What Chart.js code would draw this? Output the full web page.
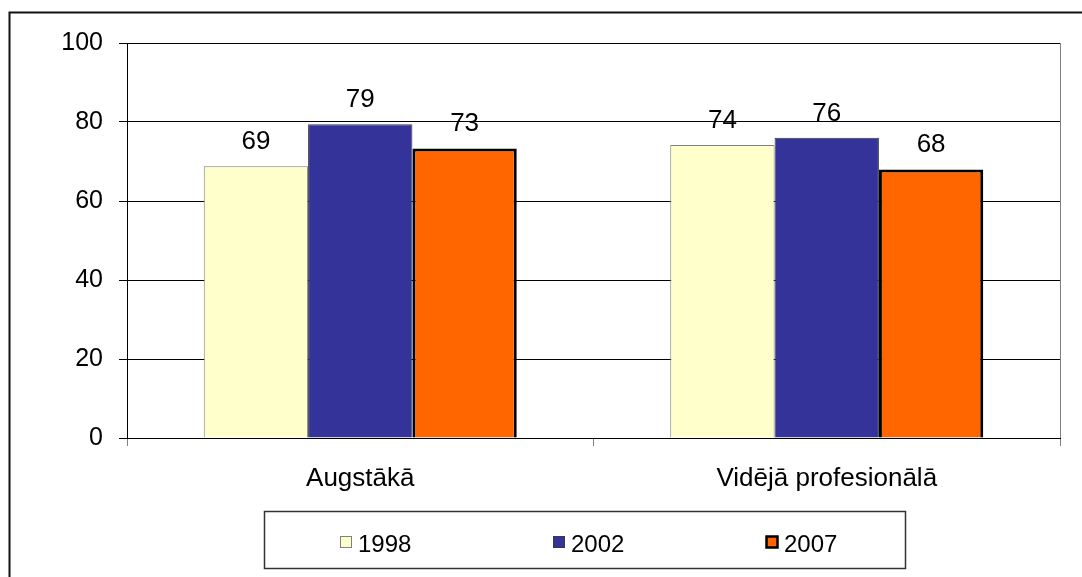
<!DOCTYPE html>
<html><head><meta charset="utf-8">
<style>html,body{margin:0;padding:0;background:#fff}#wrap{width:1082px;height:577px;position:relative}canvas{display:block}</style>
<script src="https://cdn.jsdelivr.net/npm/chart.js@4.4.1/dist/chart.umd.min.js"></script>
</head><body><div id="wrap"><canvas id="c" width="1082" height="577"></canvas></div>
<script>
const categories = ['Augstākā', 'Vidējā profesionālā'];
const seriesNames = ['1998', '2002', '2007'];
const values1998 = [68.8, 74.2];
const values2002 = [79.4, 76.0];
const values2007 = [73.3, 68.0];
const yTicks = [0, 20, 40, 60, 80, 100];

const FONT = "'Liberation Sans', Arial, Helvetica, sans-serif";
Chart.defaults.font.family = FONT;
Chart.defaults.font.size = 25;
Chart.defaults.color = '#000';

const framePlugin = {
  id: 'frame',
  beforeDraw(chart) {
    const ctx = chart.ctx;
    ctx.save();
    ctx.fillStyle = '#fff';
    ctx.fillRect(0, 0, chart.width, chart.height);
    ctx.strokeStyle = '#111';
    ctx.lineWidth = 2;
    ctx.beginPath();
    ctx.moveTo(9.5, chart.height + 2);
    ctx.lineTo(9.5, 12.5);
    ctx.lineTo(chart.width + 2, 12.5);
    ctx.stroke();
    ctx.restore();
  },
  afterDraw(chart) {
    const ctx = chart.ctx, a = chart.chartArea;
    ctx.save();
    ctx.strokeStyle = '#808080';
    ctx.lineWidth = 1;
    ctx.beginPath();
    ctx.moveTo(a.right + 0.5, a.top);
    ctx.lineTo(a.right + 0.5, a.bottom);
    ctx.stroke();
    ctx.restore();
  }
};

const valueLabelPlugin = {
  id: 'valueLabels',
  afterDatasetsDraw(chart) {
    const ctx = chart.ctx;
    ctx.save();
    ctx.font = '26px ' + FONT;
    ctx.fillStyle = '#000';
    ctx.textAlign = 'center';
    ctx.textBaseline = 'alphabetic';
    chart.data.datasets.forEach((ds, i) => {
      const meta = chart.getDatasetMeta(i);
      meta.data.forEach((el, j) => {
        ctx.fillText(String(Math.round(ds.data[j])), el.x, el.y - 17);
      });
    });
    ctx.restore();
  }
};

const legendBoxPlugin = {
  id: 'legendBox',
  afterDraw(chart) {
    const ctx = chart.ctx;
    const bx = 264, by = 511, bw = 641, bh = 57;
    ctx.save();
    ctx.strokeStyle = '#333';
    ctx.lineWidth = 1.5;
    ctx.strokeRect(bx + 0.5, by + 0.5, bw, bh);
    ctx.font = '24px ' + FONT;
    ctx.textBaseline = 'middle';
    ctx.textAlign = 'left';
    chart.data.datasets.forEach((ds, i) => {
      const x = bx + 76 + i * 213;
      const y = by + 31;
      ctx.fillStyle = ds.backgroundColor;
      ctx.fillRect(x, y - 6, 12, 12);
      ctx.strokeStyle = ds.borderColor;
      ctx.lineWidth = ds.borderWidth >= 2 ? 2.5 : 1;
      ctx.strokeRect(x + 0.5, y - 5.5, 11, 11);
      ctx.fillStyle = '#000';
      ctx.fillText(ds.label, x + 18, y + 3);
    });
    ctx.restore();
  }
};

new Chart(document.getElementById('c'), {
  type: 'bar',
  data: {
    labels: categories,
    datasets: [
      { label: seriesNames[0], data: values1998, backgroundColor: '#FFFFCC', borderColor: '#808080', borderWidth: 1 },
      { label: seriesNames[1], data: values2002, backgroundColor: '#333399', borderColor: '#3a3a3a', borderWidth: 1 },
      { label: seriesNames[2], data: values2007, backgroundColor: '#FF6600', borderColor: '#000000', borderWidth: 3 }
    ]
  },
  options: {
    responsive: false,
    animation: false,
    devicePixelRatio: 1,
    layout: { padding: { left: 0, top: 43, right: 22, bottom: 79 } },
    datasets: { bar: { categoryPercentage: 0.671, barPercentage: 1.0 } },
    plugins: { legend: { display: false }, tooltip: { enabled: false } },
    scales: {
      x: {
        grid: { offset: true, drawOnChartArea: false, drawTicks: true, tickLength: 8, color: '#808080' },
        border: { display: true, color: '#000', width: 1 },
        ticks: { padding: 17, font: { size: 26 }, color: '#000' },
        afterFit(scale) { scale.height = 60; }
      },
      y: {
        min: 0, max: 100,
        afterBuildTicks(scale) { scale.ticks = yTicks.map(v => ({ value: v })); },
        grid: { color: '#000', tickLength: 8, drawTicks: true },
        border: { display: true, color: '#000', width: 1 },
        ticks: { padding: 16, font: { size: 25 }, color: '#000' },
        afterFit(scale) { scale.width = 127; }
      }
    }
  },
  plugins: [framePlugin, valueLabelPlugin, legendBoxPlugin]
});
</script>
</body></html>
